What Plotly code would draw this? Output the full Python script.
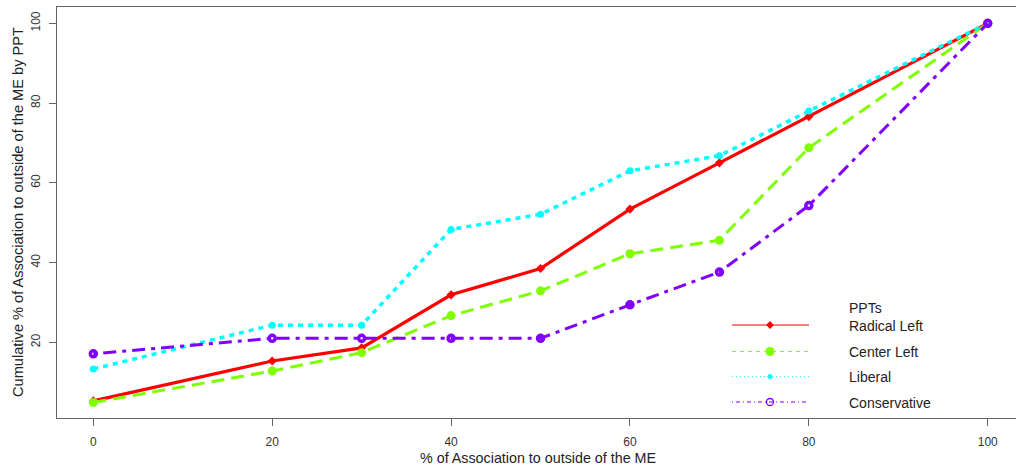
import plotly.graph_objects as go

# ---- data ----
x_pct = [0, 20, 30, 40, 50, 60, 70, 80, 100]
radical_left = [5.3, 15.3, 18.6, 31.9, 38.5, 53.4, 65.0, 76.6, 100]
center_left = [4.9, 12.8, 17.4, 26.7, 32.9, 42.2, 45.6, 68.8, 100]
liberal = [13.3, 24.3, 24.3, 48.3, 52.1, 63.0, 66.8, 78.0, 100]
conservative = [17.1, 21.0, 21.0, 21.0, 21.0, 29.4, 37.6, 54.3, 100]
series_names = ["Radical Left", "Center Left", "Liberal", "Conservative"]
x_ticks = [0, 20, 40, 60, 80, 100]
y_ticks = [20, 40, 60, 80, 100]

colors = ["#FF0000", "#7FFF00", "#00FFFF", "#8000FF"]
dashes = ["solid", "13px,7px", "5px,5px", "4px,6px,13px,6px"]
legend_dashes = ["solid", "4px,4px", "1px,3px", "1px,3px,4px,3px"]
symbols = ["diamond", "circle", "circle", "circle-open"]
msizes = [7, 9, 7, 6]
legend_msizes = [6, 9, 5, 7]
lwidths = [3.2, 3, 3.5, 3]

FONT = "Liberation Sans, Arial, sans-serif"
W, H = 1016, 466
ML, MR, MT, MB = 57, 0, 7, 48
PW, PH = W - ML - MR, H - MT - MB


def px_x(p):
    return (p - ML) / PW


def px_y(p):
    return (H - MB - p) / PH


fig = go.Figure()
all_series = [radical_left, center_left, liberal, conservative]
for i, (name, ys) in enumerate(zip(series_names, all_series)):
    mk = dict(color=colors[i], size=msizes[i], symbol=symbols[i])
    if symbols[i] == "circle-open":
        mk["line"] = dict(color=colors[i], width=3.5)
    fig.add_trace(go.Scatter(
        x=x_pct, y=ys, mode="lines+markers", name=name,
        line=dict(color=colors[i], width=lwidths[i], dash=dashes[i]),
        marker=mk, showlegend=False))

# ---- manual legend (pixel coordinate overlay axes) ----
leg_x0, leg_x1, leg_xm, leg_tx = 732, 809, 770, 847
leg_y = [325, 351.5, 376.5, 402]
for i, name in enumerate(series_names):
    fig.add_trace(go.Scatter(
        x=[leg_x0, leg_x1], y=[leg_y[i], leg_y[i]], mode="lines",
        line=dict(color=colors[i], width=1.2, dash=legend_dashes[i]),
        xaxis="x2", yaxis="y2", showlegend=False, hoverinfo="skip"))
    mk = dict(color=colors[i], size=legend_msizes[i], symbol=symbols[i])
    if symbols[i] == "circle-open":
        mk["line"] = dict(color=colors[i], width=1.3)
    fig.add_trace(go.Scatter(
        x=[leg_xm], y=[leg_y[i]], mode="markers", marker=mk,
        xaxis="x2", yaxis="y2", showlegend=False, hoverinfo="skip"))

tfont = dict(family=FONT, size=14, color="#222")
annotations = [dict(x=px_x(leg_tx), y=px_y(307.5), xref="paper", yref="paper", text="PPTs",
                    showarrow=False, xanchor="left", yanchor="middle", font=tfont)]
for i, name in enumerate(series_names):
    annotations.append(dict(x=px_x(leg_tx), y=px_y(leg_y[i] + 0.5), xref="paper", yref="paper",
                            text=name, showarrow=False, xanchor="left", yanchor="middle",
                            font=tfont))
# axis titles
annotations.append(dict(x=px_x(538), y=px_y(458), xref="paper", yref="paper",
                        text="% of Association to outside of the ME",
                        showarrow=False, xanchor="center", yanchor="middle",
                        font=dict(family=FONT, size=14.3, color="#222")))
annotations.append(dict(x=px_x(18), y=px_y(212), xref="paper", yref="paper",
                        text="Cumulative % of Association to outside of the ME by PPT",
                        showarrow=False, xanchor="center", yanchor="middle", textangle=-90,
                        font=dict(family=FONT, size=14.6, color="#222")))

fig.update_layout(
    width=W, height=H,
    margin=dict(l=ML, r=MR, t=MT, b=MB, pad=0),
    paper_bgcolor="white", plot_bgcolor="white",
    showlegend=False,
    annotations=annotations,
    xaxis=dict(range=[-4.06, 103.16], tickvals=x_ticks, ticktext=[str(v) for v in x_ticks],
               showgrid=False, zeroline=False, showline=True, linecolor="#666", linewidth=1.3,
               mirror=True, ticks="outside", ticklen=7, tickcolor="#666", tickwidth=1.3,
               ticklabelstandoff=5,
               tickfont=dict(family=FONT, size=12, color="#333")),
    yaxis=dict(range=[1.01, 104.09], tickvals=y_ticks, ticktext=[str(v) for v in y_ticks],
               showgrid=False, zeroline=False, showline=True, linecolor="#666", linewidth=1.3,
               mirror=False, ticks="outside", ticklen=7, tickcolor="#666", tickwidth=1.3,
               tickangle=-90, ticklabelstandoff=4,
               tickfont=dict(family=FONT, size=12, color="#333")),
    xaxis2=dict(overlaying="x", range=[ML, W - MR], visible=False, fixedrange=True),
    yaxis2=dict(overlaying="y", range=[H - MB, MT], visible=False, fixedrange=True),
)

fig.write_html("out.html")
